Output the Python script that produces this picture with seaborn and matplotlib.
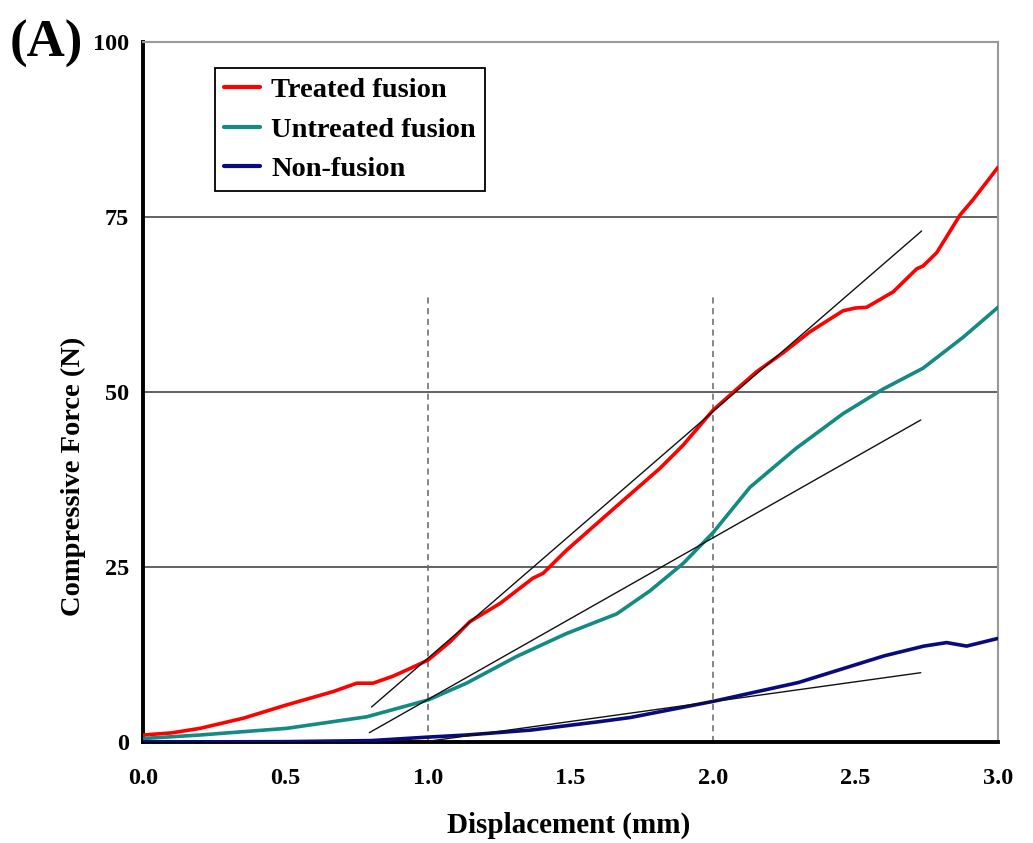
import matplotlib
matplotlib.use("Agg")
import matplotlib.pyplot as plt
import seaborn as sns
import pandas as pd
from matplotlib.lines import Line2D

# ---- data ----
treated_x = [0, 0.1, 0.2, 0.352, 0.504, 0.667, 0.75, 0.807, 0.877, 0.937, 1.0, 1.077, 1.147,
             1.253, 1.368, 1.404, 1.486, 1.662, 1.814, 1.895, 2.0, 2.083, 2.153, 2.246, 2.34,
             2.456, 2.5, 2.539, 2.632, 2.715, 2.737, 2.785, 2.867, 2.913, 3.0]
treated_y = [1.0, 1.3, 1.95, 3.4, 5.3, 7.2, 8.4, 8.4, 9.4, 10.5, 11.7, 14.3, 17.2,
             19.8, 23.4, 24.1, 27.4, 33.7, 39.1, 42.4, 47.4, 50.4, 52.9, 55.6, 58.6,
             61.6, 62.0, 62.1, 64.3, 67.6, 68.0, 69.9, 75.3, 77.5, 82.1]

untreated_x = [0, 0.2, 0.504, 0.785, 1.0, 1.135, 1.31, 1.486, 1.662, 1.779, 1.895, 2.0,
               2.13, 2.29, 2.456, 2.596, 2.737, 2.877, 3.0]
untreated_y = [0.5, 1.0, 1.95, 3.6, 6.0, 8.4, 12.2, 15.5, 18.3, 21.6, 25.5, 29.9,
               36.4, 41.9, 46.9, 50.4, 53.4, 57.8, 62.1]

nonfusion_x = [0, 0.5, 0.8, 1.0, 1.135, 1.36, 1.6, 1.71, 2.0, 2.3, 2.6, 2.74, 2.82, 2.89, 3.0]
nonfusion_y = [0.0, 0.05, 0.2, 0.7, 1.0, 1.7, 2.9, 3.5, 5.8, 8.5, 12.3, 13.7, 14.2, 13.7, 14.8]

series_names = ["Treated fusion", "Untreated fusion", "Non-fusion"]
series_colors = ["#FF0000", "#138A82", "#0A0A80"]

# tangent (stiffness) lines: start and end points
tangent_x0 = [0.802, 0.794, 1.0]
tangent_y0 = [5.0, 1.33, 0.1]
tangent_x1 = [2.732, 2.729, 2.729]
tangent_y1 = [73.0, 46.0, 9.9]

marker_x = [1.0, 2.0]
marker_top = 64

y_ticks = [0, 25, 50, 75, 100]
x_ticks = [0.0, 0.5, 1.0, 1.5, 2.0, 2.5, 3.0]

# ---- build frame ----
rows = []
for name, xs, ys in zip(series_names, [treated_x, untreated_x, nonfusion_x],
                        [treated_y, untreated_y, nonfusion_y]):
    for x, y in zip(xs, ys):
        rows.append({"Displacement": x, "Force": y, "Series": name})
df = pd.DataFrame(rows)

sns.set_theme(style="white")
plt.rcParams['font.family'] = ['Liberation Serif', 'DejaVu Serif']
plt.rcParams['font.weight'] = 'bold'
plt.rcParams['text.color'] = 'black'
plt.rcParams['axes.labelcolor'] = 'black'
plt.rcParams['xtick.color'] = 'black'
plt.rcParams['ytick.color'] = 'black'

fig = plt.figure(figsize=(10.33, 8.43), dpi=100)
ax = fig.add_axes([143 / 1033, 1 - 742 / 843, (998 - 143) / 1033, (742 - 42) / 843])

# grid lines
for yv in y_ticks[1:-1]:
    ax.axhline(yv, color="#555555", lw=1.3, zorder=1)

# dashed verticals
for xv in marker_x:
    ax.plot([xv, xv], [0, marker_top], color="#666666", lw=1.1, ls=(0, (4, 3)), zorder=1)

sns.lineplot(data=df, x="Displacement", y="Force", hue="Series", hue_order=series_names,
             palette=series_colors, estimator=None, sort=False, lw=2.6, ax=ax,
             legend=False, zorder=3)

for x0, y0, x1, y1 in zip(tangent_x0, tangent_y0, tangent_x1, tangent_y1):
    ax.plot([x0, x1], [y0, y1], color="#111111", lw=1.0, zorder=4)

ax.set_xlim(0, 3.0)
ax.set_ylim(0, 100)
ax.set_xticks(x_ticks)
ax.set_xticklabels([f"{v:.1f}" for v in x_ticks])
ax.set_yticks(y_ticks)
ax.set_yticklabels([str(v) for v in y_ticks])
ax.tick_params(axis="both", direction="out", length=7, width=2.5, colors="black",
               labelsize=17.5, pad=3)
ax.tick_params(axis="x", pad=12)
for lab in ax.get_xticklabels() + ax.get_yticklabels():
    lab.set_fontweight("bold")
    lab.set_color("black")

for s in ["left", "bottom"]:
    ax.spines[s].set_color("black")
    ax.spines[s].set_linewidth(2.8)
for s in ["top", "right"]:
    ax.spines[s].set_color("#999999")
    ax.spines[s].set_linewidth(1.5)

ax.set_xlabel("Displacement (mm)", fontsize=21, fontweight="bold", color="black")
ax.set_ylabel("Compressive Force (N)", fontsize=20.5, fontweight="bold", color="black")
ax.xaxis.set_label_coords(0.498, -0.099)
ax.yaxis.set_label_coords(-0.067, 0.379)

handles = [Line2D([0], [0], color=c, lw=3) for c in series_colors]
leg = ax.legend(handles, series_names, loc="upper left", bbox_to_anchor=(0.084, 0.963),
                frameon=True, fancybox=False, edgecolor="black", framealpha=1,
                prop={"family": "Liberation Serif", "weight": "bold", "size": 20.5},
                handlelength=1.25, handletextpad=0.4, labelspacing=0.47, borderpad=0.33,
                borderaxespad=0)
leg.get_frame().set_linewidth(1.3)
for t in leg.get_texts():
    t.set_color("black")

fig.text(10 / 1033, 1 - 57 / 843, "(A)", fontsize=38, fontweight="bold",
         family="Liberation Serif", ha="left", va="baseline", color="black")

fig.savefig("out.png", dpi=100, facecolor="white")
